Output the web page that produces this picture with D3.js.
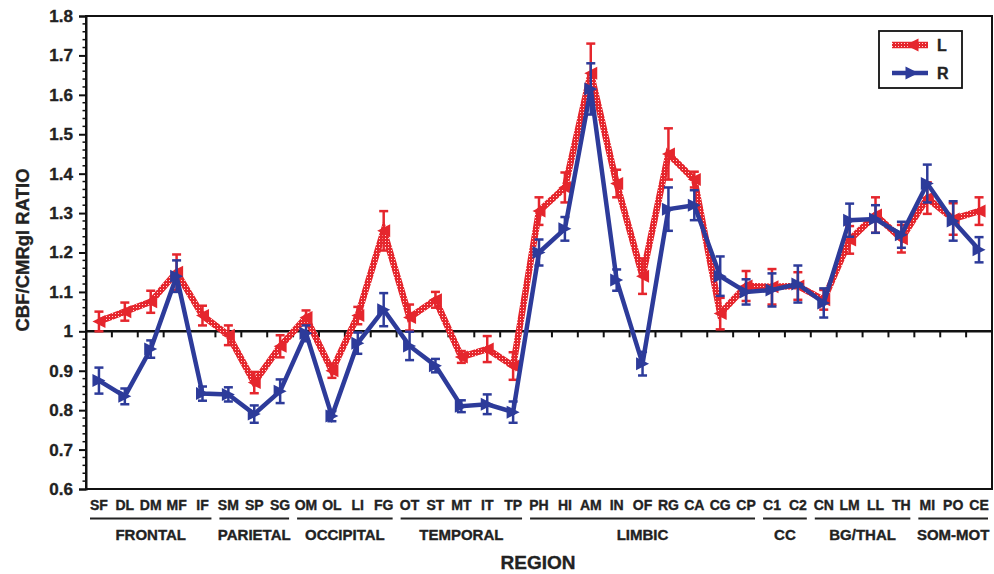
<!DOCTYPE html>
<html>
<head>
<meta charset="utf-8">
<script src="https://cdn.jsdelivr.net/npm/d3@7"></script>
<style>
  body { margin: 0; background: #fff; }
  svg { display: block; font-family: "Liberation Sans", Arial, sans-serif; font-weight: bold; }
  svg text { stroke: #222; stroke-width: 0.35px; }
</style>
</head>
<body>
<svg id="chart" width="994" height="574"></svg>
<script>
const categories = ["SF","DL","DM","MF","IF","SM","SP","SG","OM","OL","LI","FG","OT","ST","MT","IT","TP",
  "PH","HI","AM","IN","OF","RG","CA","CG","CP","C1","C2","CN","LM","LL","TH","MI","PO","CE"]

const leftValues = [1.025,1.05,1.075,1.15,1.04,0.99,0.87,0.962,1.035,0.9,1.04,1.255,1.035,1.08,0.935,0.955,0.912,
  1.305,1.365,1.655,1.375,1.14,1.45,1.385,1.045,1.115,1.113,1.115,1.08,1.232,1.295,1.235,1.338,1.285,1.305]
const leftErrors = [0.025,0.023,0.028,0.045,0.025,0.025,0.027,0.028,0.018,0.018,0.022,0.05,0.033,0.02,0.015,0.033,0.035,
  0.035,0.038,0.075,0.035,0.045,0.065,0.02,0.04,0.038,0.045,0.035,0.025,0.035,0.045,0.035,0.04,0.04,0.035]

const rightValues = [0.875,0.835,0.955,1.14,0.842,0.84,0.79,0.848,0.995,0.785,0.97,1.055,0.963,0.913,0.81,0.815,0.795,
  1.2,1.26,1.615,1.13,0.918,1.31,1.32,1.14,1.1,1.105,1.12,1.072,1.282,1.285,1.245,1.375,1.28,1.207]
const rightErrors = [0.033,0.02,0.022,0.04,0.018,0.018,0.022,0.03,0.02,0.013,0.027,0.042,0.036,0.017,0.015,0.025,0.027,
  0.033,0.03,0.065,0.027,0.03,0.055,0.038,0.05,0.032,0.042,0.047,0.037,0.042,0.035,0.033,0.048,0.05,0.032]

const groupNames = ["FRONTAL","PARIETAL","OCCIPITAL","TEMPORAL","LIMBIC","CC","BG/THAL","SOM-MOT"]
const groupSizes = [5,3,4,5,9,2,4,3]

const yTickValues = [0.6,0.7,0.8,0.9,1,1.1,1.2,1.3,1.4,1.5,1.6,1.7,1.8]
const yTickLabels = ["0.6","0.7","0.8","0.9","1","1.1","1.2","1.3","1.4","1.5","1.6","1.7","1.8"]

const seriesNames = ["L","R"]

const RED = "#e5262d"
const BLUE = "#2d3b9a"

const plotLeft = 86, plotRight = 992, plotTop = 16, plotBottom = 489

const svg = d3.select("#chart")

const x = d3.scaleBand().domain(categories).range([plotLeft, plotRight]).padding(0)
const y = d3.scaleLinear().domain([0.6, 1.8]).range([plotBottom, plotTop])
const cx = c => x(c) + x.bandwidth() / 2

// speckled red stroke for the L series
const defs = svg.append("defs")
const pat = defs.append("pattern")
  .attr("id", "speckle")
  .attr("patternUnits", "userSpaceOnUse")
  .attr("width", 3).attr("height", 3)
pat.append("rect").attr("width", 3).attr("height", 3).attr("fill", RED)
pat.append("rect").attr("x", 1).attr("y", 1).attr("width", 1).attr("height", 1).attr("fill", "#ffd6d6")

// frame
svg.append("rect")
  .attr("x", plotLeft).attr("y", plotTop)
  .attr("width", plotRight - plotLeft).attr("height", plotBottom - plotTop)
  .attr("fill", "none").attr("stroke", "#111").attr("stroke-width", 2)

// y axis: major ticks + minor ticks
const yAxis = svg.append("g")
  .attr("transform", `translate(${plotLeft},0)`)
  .call(d3.axisLeft(y).tickValues(yTickValues).tickSize(7).tickFormat((d, i) => yTickLabels[i]))
yAxis.select(".domain").attr("stroke-width", 2).attr("stroke", "#111")
yAxis.selectAll(".tick line").attr("stroke-width", 2).attr("stroke", "#111")
yAxis.selectAll(".tick text")
  .attr("x", -13)
  .attr("font-size", 17).attr("font-weight", "bold")
  .attr("font-family", "'Liberation Sans', Arial, sans-serif")
  .attr("fill", "#222")

const minor = d3.range(0.62, 1.8, 0.02).filter(v => Math.abs(v * 10 - Math.round(v * 10)) > 0.01)
svg.append("g").selectAll("line").data(minor).join("line")
  .attr("x1", plotLeft - 3.5).attr("x2", plotLeft)
  .attr("y1", d => y(d)).attr("y2", d => y(d))
  .attr("stroke", "#111").attr("stroke-width", 1.5)

// x axis crossing at 1
const xAxis = svg.append("g")
  .attr("transform", `translate(0,${y(1)})`)
xAxis.append("line")
  .attr("x1", plotLeft).attr("x2", plotRight)
  .attr("stroke", "#111").attr("stroke-width", 2.5)
xAxis.selectAll("line.tk").data(categories.slice(1)).join("line")
  .attr("class", "tk")
  .attr("x1", d => x(d)).attr("x2", d => x(d))
  .attr("y1", 0).attr("y2", 6)
  .attr("stroke", "#111").attr("stroke-width", 2)

// category labels
svg.append("g").selectAll("text").data(categories).join("text")
  .attr("x", d => cx(d))
  .attr("y", 510)
  .attr("text-anchor", "middle")
  .attr("font-size", 14)
  .attr("fill", "#222")
  .text(d => d)

// group underlines + names
let start = 0
const groups = groupNames.map((g, i) => {
  const first = categories[start]
  const last = categories[start + groupSizes[i] - 1]
  start += groupSizes[i]
  return { name: g, x0: x(first) + 4, x1: x(last) + x.bandwidth() - 4 }
})
const gg = svg.append("g")
gg.selectAll("line").data(groups).join("line")
  .attr("x1", d => d.x0).attr("x2", d => d.x1)
  .attr("y1", 518.5).attr("y2", 518.5)
  .attr("stroke", "#222").attr("stroke-width", 2)
gg.selectAll("text").data(groups).join("text")
  .attr("x", d => (d.x0 + d.x1) / 2)
  .attr("y", 540)
  .attr("text-anchor", "middle")
  .attr("font-size", 15)
  .attr("fill", "#222")
  .text(d => d.name)

// axis titles
svg.append("text")
  .attr("x", 538).attr("y", 569)
  .attr("text-anchor", "middle")
  .attr("font-size", 19)
  .attr("fill", "#222")
  .text("REGION")

svg.append("text")
  .attr("transform", `translate(29,${250}) rotate(-90)`)
  .attr("text-anchor", "middle")
  .attr("font-size", 18.5)
  .attr("fill", "#222")
  .text("CBF/CMRgl RATIO")

// series
const series = [
  { name: seriesNames[0], values: leftValues, errors: leftErrors, color: RED, stroke: "url(#speckle)", width: 6.5, dir: -1 },
  { name: seriesNames[1], values: rightValues, errors: rightErrors, color: BLUE, stroke: BLUE, width: 4.5, dir: 1 }
]

const tri = (dir, s) => dir < 0
  ? `M${-s},0L${s},${-s}L${s},${s}Z`
  : `M${s},0L${-s},${-s}L${-s},${s}Z`

const line = d3.line().x((d, i) => cx(categories[i])).y(d => y(d))

series.forEach(s => {
  const g = svg.append("g")
  g.append("path")
    .datum(s.values)
    .attr("d", line)
    .attr("fill", "none")
    .attr("stroke", s.stroke)
    .attr("stroke-width", s.width)
    .attr("stroke-linejoin", "miter")

  const pts = s.values.map((v, i) => ({ c: categories[i], v: v, e: s.errors[i] }))
  const eb = g.selectAll("g.err").data(pts).join("g").attr("class", "err")
  eb.append("line")
    .attr("x1", d => cx(d.c)).attr("x2", d => cx(d.c))
    .attr("y1", d => y(d.v - d.e)).attr("y2", d => y(d.v + d.e))
    .attr("stroke", s.color).attr("stroke-width", 2.5)
  eb.append("line")
    .attr("x1", d => cx(d.c) - 4.5).attr("x2", d => cx(d.c) + 4.5)
    .attr("y1", d => y(d.v + d.e)).attr("y2", d => y(d.v + d.e))
    .attr("stroke", s.color).attr("stroke-width", 2.5)
  eb.append("line")
    .attr("x1", d => cx(d.c) - 4.5).attr("x2", d => cx(d.c) + 4.5)
    .attr("y1", d => y(d.v - d.e)).attr("y2", d => y(d.v - d.e))
    .attr("stroke", s.color).attr("stroke-width", 2.5)

  g.selectAll("path.mk").data(pts).join("path")
    .attr("class", "mk")
    .attr("d", tri(s.dir, 6.5))
    .attr("transform", d => `translate(${cx(d.c)},${y(d.v)})`)
    .attr("fill", s.color)
})

// legend
const lg = svg.append("g")
lg.append("rect")
  .attr("x", 879).attr("y", 31).attr("width", 83).attr("height", 57)
  .attr("fill", "#fff").attr("stroke", "#111").attr("stroke-width", 1.8)
series.forEach((s, i) => {
  const ly = 45 + i * 28
  lg.append("line")
    .attr("x1", 892).attr("x2", 928).attr("y1", ly).attr("y2", ly)
    .attr("stroke", s.stroke).attr("stroke-width", s.width)
  lg.append("path")
    .attr("d", tri(s.dir, 6.5))
    .attr("transform", `translate(912,${ly})`)
    .attr("fill", s.color)
  lg.append("text")
    .attr("x", 937).attr("y", ly + 6)
    .attr("font-size", 16)
    .attr("fill", "#222")
    .text(s.name)
})
</script>
</body>
</html>
